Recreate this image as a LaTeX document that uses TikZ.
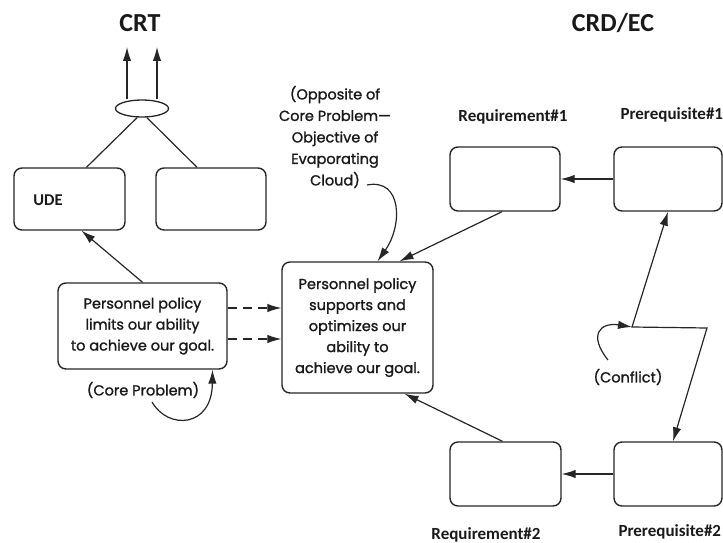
\documentclass[tikz,border=0pt]{standalone}
\usepackage{fontspec}
\setmainfont{Poppins}
\newfontfamily\bodyfont{Poppins}[FakeBold=1.3]
\newfontfamily\headfont{Carlito}
\usetikzlibrary{shapes.geometric,arrows.meta,calc}
\begin{document}
\begin{tikzpicture}[x=1pt,y=-1pt,
  box/.style={draw=black!85,line width=1.4pt,rounded corners=8pt,rectangle,inner sep=0pt},
  boxtext/.style={font=\bodyfont\fontsize{14.5}{21}\selectfont,align=center,text=black!90},
  note/.style={font=\bodyfont\fontsize{14.5}{21.5}\selectfont,align=center,text=black!90},
  head/.style={font=\headfont\bfseries\fontsize{17}{20}\selectfont,text=black!90},
  title/.style={font=\headfont\bfseries\fontsize{26}{30}\selectfont,text=black!90},
  link/.style={draw=black!85,line width=1.2pt},
  arr/.style={link,-{Latex[length=14pt,width=8.5pt]}},
  dblarr/.style={link,{Latex[length=14pt,width=8.5pt]}-{Latex[length=14pt,width=8.5pt]}}]
\useasboundingbox (0,0) rectangle (723,543);

% titles
\node[title] (crt) at (140,23) {CRT};
\node[title] (crd) at (613,23) {CRD/EC};

% current reality tree side
\node[box,minimum width=111pt,minimum height=62pt] (ude) at (69.5,199) {};
\node[head,font=\headfont\bfseries\fontsize{16.5}{19}\selectfont] (udelabel) at (48,200) {UDE};
\node[box,minimum width=110pt,minimum height=62pt] (crt2) at (211,199) {};
\node[draw=black!85,line width=1.3pt,ellipse,minimum width=53pt,minimum height=17pt,inner sep=0pt] (ell) at (142,108.5) {};
\coordinate (t1) at (127,47);
\coordinate (t2) at (157,47);
\draw[arr] (ell.north -| t1) -- (t1);
\draw[arr] (ell.north -| t2) -- (t2);
\draw[link] (ell.-118) -- ($(ude.north)+(17,0)$);
\draw[link] (ell.-62) -- ($(crt2.north)+(-14,0)$);

\node[box,minimum width=169pt,minimum height=86pt,boxtext] (core) at (142.5,326)
  {Personnel policy\\limits our ability\\to achieve our goal.};
\draw[arr] (core.north) -- ($(ude.south)+(12,0)$);
\node[note] (corenote) at (143,390) {(Core Problem)};
\coordinate (cs) at (152,402);
\draw[arr] (cs) .. controls (168,430) and (212,428) .. ($(core.south)+(70,0)$);

% objective in the middle
\node[box,minimum width=151pt,minimum height=131pt,boxtext] (goal) at (357.5,327.5)
  {Personnel policy\\supports and\\optimizes our\\ability to\\achieve our goal.};
\draw[arr,dashed,dash pattern=on 9pt off 6pt] (core.east |- 0,308) -- (goal.west |- 0,308);
\draw[arr,dashed,dash pattern=on 9pt off 6pt] (core.east |- 0,339) -- (goal.west |- 0,339);
\node[note] (opp) at (335,137) {(Opposite of\\Core Problem—\\Objective of\\Evaporating\\Cloud)};
\coordinate (os) at (367,185);
\draw[arr] (os) .. controls (402,178) and (403,225) .. ($(goal.north)+(20,0)$);

% evaporating cloud side
\node[head] (r1label) at (513,117) {Requirement\#1};
\node[head,anchor=west] (p1label) at (617,115) {Prerequisite\#1};
\node[box,minimum width=110pt,minimum height=64pt] (req1) at (505,179) {};
\node[box,minimum width=108pt,minimum height=64pt] (pre1) at (668,179) {};
\node[box,minimum width=111pt,minimum height=64pt] (req2) at (505.5,474) {};
\node[box,minimum width=108pt,minimum height=64pt] (pre2) at (668,474) {};
\node[head] (r2label) at (486,535) {Requirement\#2};
\node[head,anchor=west] (p2label) at (615,532) {Prerequisite\#2};

\draw[arr] (pre1.west) -- (req1.east);
\draw[arr] (pre2.west) -- (req2.east);
\draw[arr] ($(req1.south)+(-3,0)$) -- ($(goal.north)+(42,0)$);
\draw[arr] ($(req2.north)+(-3,0)$) -- ($(goal.south)+(47,0)$);

% conflict arrow
\coordinate (z1) at (632,327);
\coordinate (z2) at (707,328);
\draw[dblarr] (pre1.south) -- (z1) -- (z2) -- ($(pre2.north)+(5,0)$);
\node[note] (conflict) at (628,377) {(Conflict)};
\coordinate (ks) at (608,360);
\draw[arr] (ks) .. controls (588,335) and (600,322) .. (z1);
\end{tikzpicture}
\end{document}
